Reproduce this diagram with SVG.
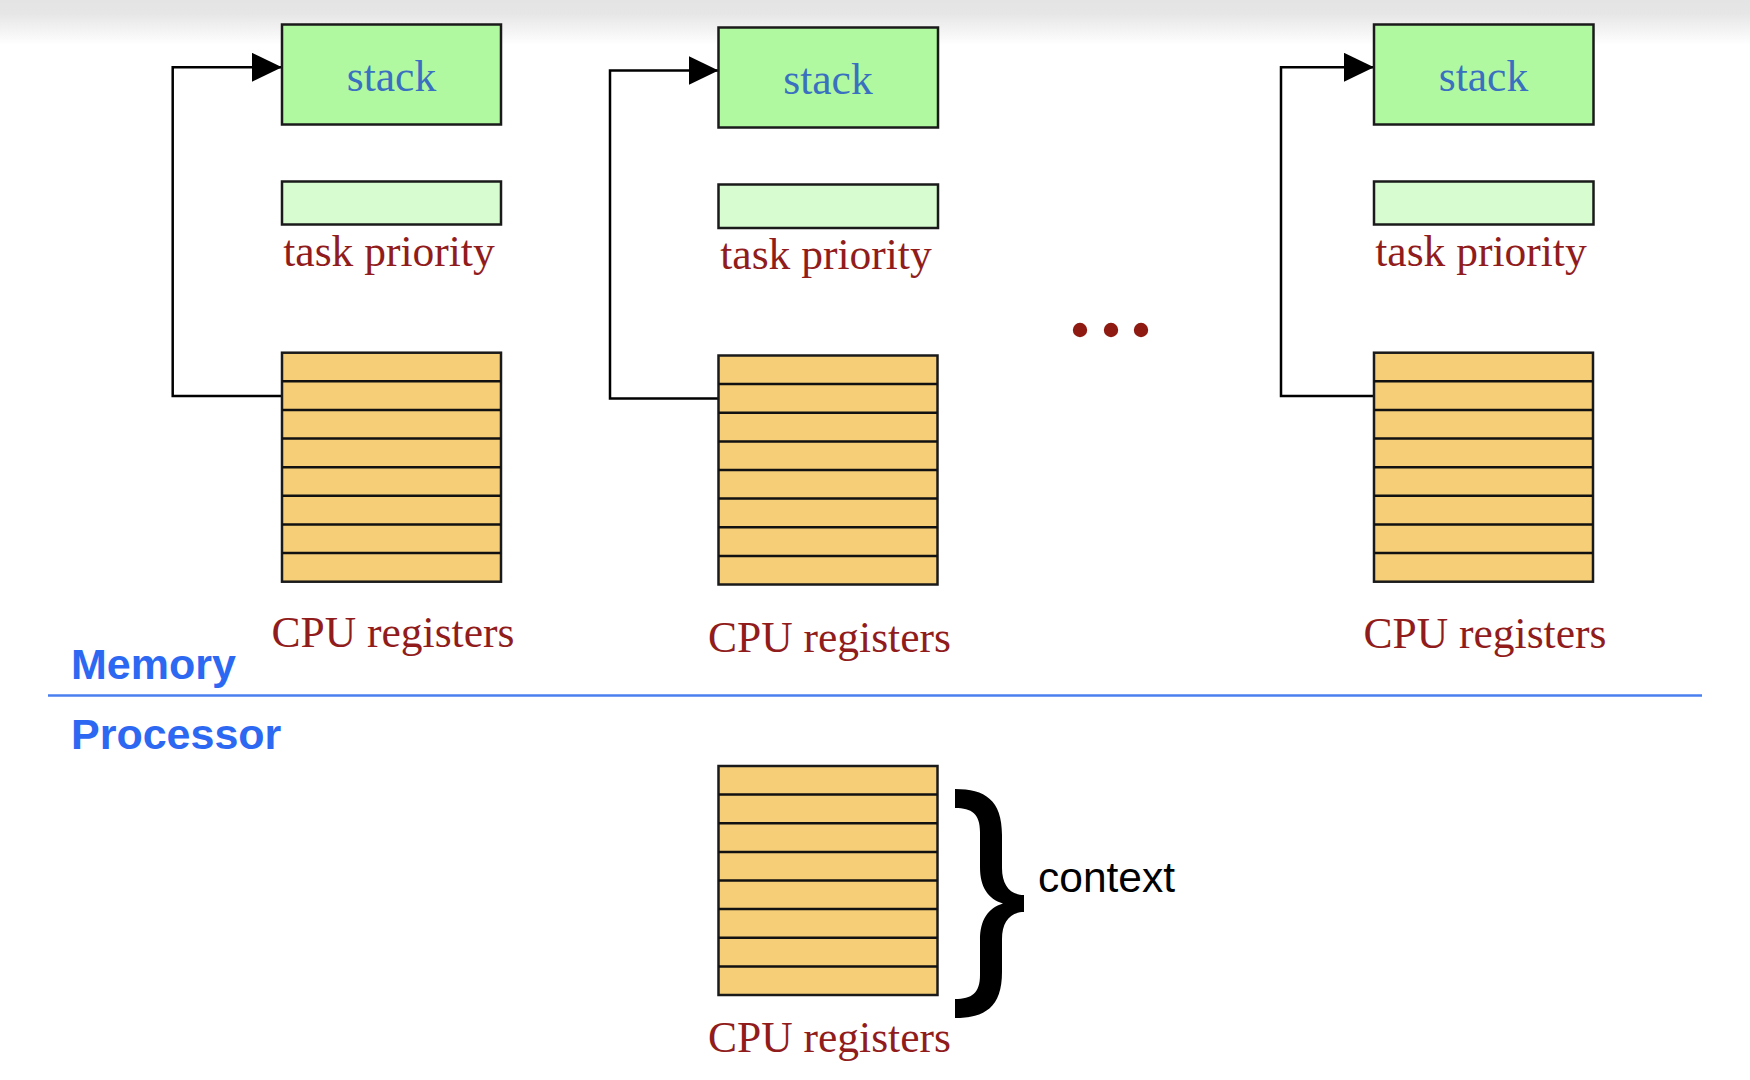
<svg xmlns="http://www.w3.org/2000/svg" width="1750" height="1080" viewBox="0 0 1750 1080">
<style>
.stack{fill:#b0f9a0;stroke:#1a1a1a;stroke-width:2.5}
.prio{fill:#d6fcd0;stroke:#1a1a1a;stroke-width:2.5}
.reg{fill:#f6ce78;stroke:#1a1a1a;stroke-width:2.5}
.row{stroke:#111;stroke-width:2.5}
.serif{font-family:"Liberation Serif","Times New Roman",serif;font-size:43.5px;text-anchor:middle}
.stxt{fill:#3a70c0}
.red{fill:#911c1c}
.lbl{font-family:"Liberation Sans",Arial,sans-serif;font-weight:bold;font-size:43px;fill:#2d68f2}
.conn{fill:none;stroke:#000;stroke-width:2.5}
</style>
<defs>
<linearGradient id="topg" x1="0" y1="0" x2="0" y2="1">
<stop offset="0" stop-color="#e4e4e4"/>
<stop offset="0.3" stop-color="#e6e6e6"/>
<stop offset="1" stop-color="#ffffff"/>
</linearGradient>
<marker id="ah" viewBox="0 0 30 29" refX="30" refY="14.5" markerWidth="30" markerHeight="29" markerUnits="userSpaceOnUse" orient="auto">
<path d="M0,0 L30,14.5 L0,29 Z" fill="#000"/>
</marker>
<g id="regs">
<rect class="reg" x="0" y="0" width="219" height="229"/>
<line class="row" x1="0" y1="28.6" x2="219" y2="28.6"/>
<line class="row" x1="0" y1="57.2" x2="219" y2="57.2"/>
<line class="row" x1="0" y1="85.9" x2="219" y2="85.9"/>
<line class="row" x1="0" y1="114.5" x2="219" y2="114.5"/>
<line class="row" x1="0" y1="143.1" x2="219" y2="143.1"/>
<line class="row" x1="0" y1="171.7" x2="219" y2="171.7"/>
<line class="row" x1="0" y1="200.4" x2="219" y2="200.4"/>
</g>
</defs>
<rect width="1750" height="1080" fill="#ffffff"/>
<rect width="1750" height="45" fill="url(#topg)"/>

<g id="connectors">
<path class="conn" d="M282,396 H172.7 V67.3 H282" marker-end="url(#ah)"/>
<path class="conn" d="M718.5,398.5 H610 V70.5 H718.5" marker-end="url(#ah)"/>
<path class="conn" d="M1374,396 H1281 V67.3 H1374" marker-end="url(#ah)"/>
</g>

<g id="task1">
<rect class="stack" x="282" y="24.5" width="219" height="100"/>
<text class="serif stxt" x="391.5" y="91">stack</text>
<rect class="prio" x="282" y="181.5" width="219" height="43"/>
<text class="serif red" x="389" y="266">task priority</text>
<use href="#regs" x="282" y="352.7"/>
<text class="serif red" x="393" y="647">CPU registers</text>
</g>

<g id="task2">
<rect class="stack" x="718.5" y="27.5" width="219.5" height="100"/>
<text class="serif stxt" x="828" y="94">stack</text>
<rect class="prio" x="718.5" y="184.5" width="219.5" height="43.5"/>
<text class="serif red" x="826" y="269">task priority</text>
<use href="#regs" x="718.5" y="355.5"/>
<text class="serif red" x="829.5" y="652">CPU registers</text>
</g>

<g id="ellipsis" fill="#8e1a12">
<circle cx="1080" cy="330" r="7.2"/>
<circle cx="1111" cy="330" r="7.2"/>
<circle cx="1141" cy="330" r="7.2"/>
</g>

<g id="task3">
<rect class="stack" x="1374" y="24.5" width="219.5" height="100"/>
<text class="serif stxt" x="1483.5" y="91">stack</text>
<rect class="prio" x="1374" y="181.5" width="219.5" height="43"/>
<text class="serif red" x="1481" y="266">task priority</text>
<use href="#regs" x="1374" y="352.7"/>
<text class="serif red" x="1485" y="648">CPU registers</text>
</g>

<g id="divider">
<text class="lbl" x="71" y="679">Memory</text>
<line x1="48" y1="695.5" x2="1702" y2="695.5" stroke="#4a7ff0" stroke-width="2.5"/>
<text class="lbl" x="71" y="749">Processor</text>
</g>

<g id="processor">
<use href="#regs" x="718.5" y="766"/>
<text class="serif red" x="829.5" y="1052">CPU registers</text>
<path d="M955,789 C985,789 1002,800 1002,835 L1002,868 C1002,885 1010,895 1024,895 L1024,912 C1010,912 1002,922 1002,939 L1002,972 C1002,1007 985,1018 955,1018 L955,999 C972,999 980,993 980,975 L980,940 C980,920 988,908 1003,903.5 C988,899 980,887 980,867 L980,832 C980,814 972,808 955,808 Z" fill="#000"/>
<text x="1038" y="892" font-family="'Liberation Sans',Arial,sans-serif" font-size="42.5" fill="#000">context</text>
</g>
</svg>
